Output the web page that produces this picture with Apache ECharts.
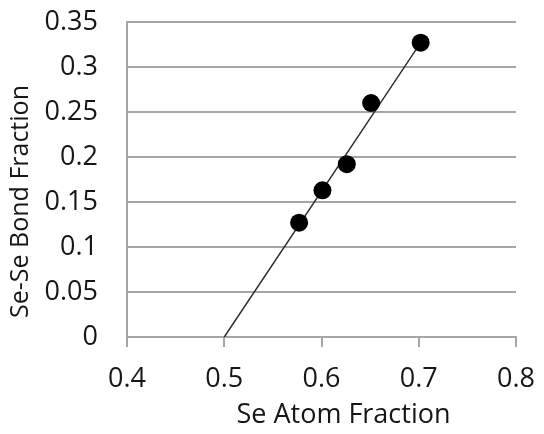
<!DOCTYPE html>
<html>
<head>
<meta charset="utf-8">
<script src="https://cdn.jsdelivr.net/npm/echarts@6/dist/echarts.min.js"></script>
<style>
  html, body { margin: 0; padding: 0; background: #fff; }
  #chart { width: 544px; height: 434px; }
</style>
</head>
<body>
<div id="chart"></div>
<script>
// Se atom fraction vs. Se-Se bond fraction (measured samples)
const seAtomFraction = [0.577, 0.601, 0.626, 0.651, 0.702];
const seSeBondFraction = [0.127, 0.163, 0.192, 0.260, 0.327];

// Reference line drawn through the samples
const lineX = [0.5, 0.702];
const lineY = [0, 0.327];

const xTicks = [0.4, 0.5, 0.6, 0.7, 0.8];
const yTicks = [0, 0.05, 0.1, 0.15, 0.2, 0.25, 0.3, 0.35];

const font = '"Open Sans", sans-serif';
const textColor = '#161616';
const gridColor = '#a6a6a6';

const chart = echarts.init(document.getElementById('chart'), null, { renderer: 'canvas' });

chart.setOption({
  animation: false,
  backgroundColor: '#ffffff',
  grid: { left: 127, right: 28, top: 22, bottom: 95, containLabel: false },
  xAxis: {
    type: 'value',
    min: xTicks[0],
    max: xTicks[xTicks.length - 1],
    interval: 0.1,
    name: 'Se Atom Fraction',
    nameLocation: 'middle',
    nameGap: 65,
    nameTextStyle: { fontFamily: font, fontSize: 27, color: textColor, padding: [0, 0, 0, 44] },
    axisLine: { show: true, lineStyle: { color: gridColor, width: 2 } },
    axisTick: { show: true, length: 10, lineStyle: { color: gridColor, width: 2 } },
    splitLine: { show: false },
    axisLabel: {
      fontFamily: font, fontSize: 27, color: textColor, margin: 29,
      formatter: v => String(Math.round(v * 10) / 10)
    }
  },
  yAxis: {
    type: 'value',
    min: yTicks[0],
    max: yTicks[yTicks.length - 1],
    interval: 0.05,
    name: 'Se-Se Bond Fraction',
    nameLocation: 'middle',
    nameGap: 89,
    nameRotate: 90,
    nameTextStyle: { fontFamily: font, fontSize: 25, color: textColor, padding: [0, 44, 0, 0], verticalAlign: 'middle' },
    axisLine: { show: true, lineStyle: { color: gridColor, width: 2 } },
    axisTick: { show: false },
    splitLine: { show: true, lineStyle: { color: gridColor, width: 2 } },
    axisLabel: {
      fontFamily: font, fontSize: 27, color: textColor, margin: 29,
      formatter: v => String(Math.round(v * 100) / 100)
    }
  },
  series: [
    {
      type: 'line',
      data: lineX.map((x, i) => [x, lineY[i]]),
      showSymbol: false,
      symbol: 'none',
      lineStyle: { color: '#2a2a2a', width: 1.4 },
      z: 2
    },
    {
      type: 'scatter',
      data: seAtomFraction.map((x, i) => [x, seSeBondFraction[i]]),
      symbol: 'circle',
      symbolSize: 18,
      itemStyle: { color: '#000000', opacity: 1 },
      z: 3
    }
  ]
});
</script>
</body>
</html>
